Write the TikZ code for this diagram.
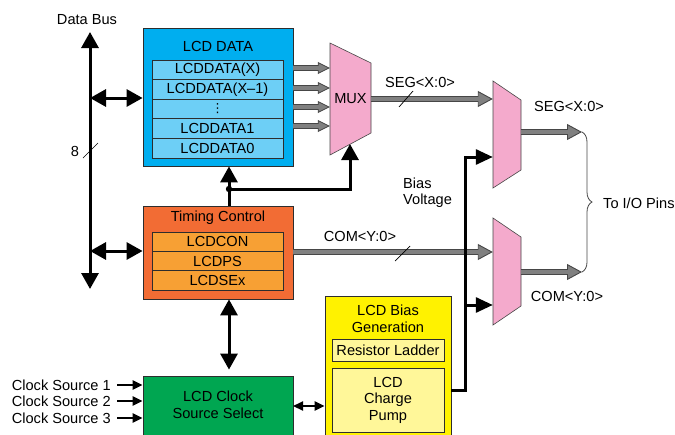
\documentclass[tikz,border=0pt]{standalone}
\usepackage{fontspec}
\setmainfont{Liberation Sans}
\newfontfamily\symfont{DejaVu Sans}
\usetikzlibrary{arrows.meta,decorations.pathreplacing}

\definecolor{dblue}{RGB}{0,174,239}
\definecolor{lblue}{RGB}{109,207,246}
\definecolor{torange}{RGB}{242,108,52}
\definecolor{lorange}{RGB}{247,160,52}
\definecolor{cgreen}{RGB}{0,166,81}
\definecolor{byellow}{RGB}{255,242,0}
\definecolor{lyellow}{RGB}{255,247,153}
\definecolor{mpink}{RGB}{244,170,204}
\definecolor{busgray}{RGB}{128,128,128}
\definecolor{busdark}{RGB}{70,70,70}
\definecolor{edge}{RGB}{45,45,45}

\tikzset{
  bigtip/.tip={Triangle[length=16pt,width=17pt]},
  midtip/.tip={Triangle[length=17pt,width=15pt]},
  smalltip/.tip={Triangle[length=10pt,width=9pt]},
  blk/.style={draw=black, line width=3pt},
  thinblk/.style={draw=black, line width=2.2pt},
  box/.style={draw=edge, line width=0.8pt, inner sep=0pt},
  row/.style={draw=edge, line width=0.8pt, inner sep=0pt,
              minimum width=131pt, minimum height=19.6pt},
  muxshape/.style={draw=busdark, line width=0.6pt, fill=mpink},
  wide bus outer/.style={draw=busdark, line width=6.5pt,
    -{Triangle[length=15pt,width=16pt,line width=0.9pt,fill=busgray]}},
  wide bus inner/.style={draw=busgray, line width=4.3pt, shorten >=14pt},
  narrow bus outer/.style={draw=busdark, line width=5.5pt,
    -{Triangle[length=12pt,width=12pt,line width=0.8pt,fill=busgray]}},
  narrow bus inner/.style={draw=busgray, line width=3.5pt, shorten >=11pt},
  slash/.style={draw=black, line width=0.7pt},
  every node/.style={font=\fontsize{14.6}{16.5}\selectfont}
}

% two-tone bus arrow: #1 = wide or narrow
\newcommand\busarrow[3]{%
  \draw[#1 bus outer] #2 -- #3;
  \draw[#1 bus inner] #2 -- #3;}

\begin{document}
\begin{tikzpicture}[x=1pt,y=-1pt]
\useasboundingbox (0,0) rectangle (675,434);
\clip (0,0) rectangle (675,434);

% ---------------- LCD DATA block
\node[box, fill=dblue, minimum width=150pt, minimum height=138pt] (lcddata) at (218,97) {};
\node (lcddatat) at (218,46) {LCD DATA};
\node[row, fill=lblue] (d1) at (217.5,69.8) {LCDDATA(X)};
\node[row, fill=lblue] (d2) at (217.5,89.4) {LCDDATA(X--1)};
\node[row, fill=lblue] (d3) at (217.5,109.0) {\symfont\fontsize{12.5}{12.5}\selectfont ⋮};
\node[row, fill=lblue] (d4) at (217.5,128.6) {LCDDATA1};
\node[row, fill=lblue] (d5) at (217.5,148.2) {LCDDATA0};

% ---------------- Timing Control block
\node[box, fill=torange, minimum width=150pt, minimum height=93pt] (timing) at (218,252.5) {};
\node (timingt) at (218,218) {Timing Control};
\node[row, fill=lorange, minimum height=19.4pt] (t1) at (217.5,241.7) {LCDCON};
\node[row, fill=lorange, minimum height=19.4pt] (t2) at (217.5,261.1) {LCDPS};
\node[row, fill=lorange, minimum height=19.4pt] (t3) at (217.5,280.5) {LCDSEx};

% ---------------- Clock source select
\node[box, fill=cgreen, minimum width=150pt, minimum height=64pt] (clocksel) at (218,408) {};
\node[align=center] (clockt) at (218,405) {LCD Clock\\Source Select};

% ---------------- Bias generation
\node[box, fill=byellow, minimum width=126pt, minimum height=144pt] (biasgen) at (388,368) {};
\node[align=center] (biast) at (388,319) {LCD Bias\\Generation};
\node[box, fill=lyellow, minimum width=112pt, minimum height=22pt] (ladder) at (388,350) {Resistor Ladder};
\node[box, fill=lyellow, minimum width=112pt, minimum height=64pt, align=center] (pump) at (388,400) {LCD\\Charge\\Pump};

% ---------------- Multiplexers
\draw[muxshape] (330,43) -- (371,63) -- (371,133) -- (330,155) -- cycle;
\node[minimum width=41pt, minimum height=112pt, inner sep=0pt] (mux1) at (350.5,99) {MUX};
\draw[muxshape] (493,81) -- (521,100) -- (521,170) -- (493,188) -- cycle;
\node[minimum width=28pt, minimum height=107pt, inner sep=0pt] (mux2) at (507,134.5) {};
\draw[muxshape] (493,218) -- (521,237) -- (521,306) -- (493,325) -- cycle;
\node[minimum width=28pt, minimum height=107pt, inner sep=0pt] (mux3) at (507,271.5) {};

% ---------------- Data bus
\coordinate (busTop) at (90,32);
\coordinate (busBot) at (90,289);
\node (busl) at (87,20) {Data Bus};
\draw[blk, bigtip-bigtip] (busBot) -- (busTop);
\coordinate (b1) at (90,98);
\coordinate (b2) at (90,251);
\draw[blk, bigtip-bigtip] (b1) -- (b1 -| lcddata.west);
\draw[blk, bigtip-bigtip] (b2) -- (b2 -| timing.west);
\draw[slash] (83,158) -- (98,143);
\node (eight) at (75,151) {8};

% ---------------- Data registers to MUX
\busarrow{narrow}{(lcddata.east |- 0,68)}{(mux1.west |- 0,68)}
\busarrow{narrow}{(lcddata.east |- 0,88)}{(mux1.west |- 0,88)}
\busarrow{narrow}{(lcddata.east |- 0,107)}{(mux1.west |- 0,107)}
\busarrow{narrow}{(lcddata.east |- 0,126)}{(mux1.west |- 0,126)}

% ---------------- Timing control to data and MUX select
\coordinate (jn) at (229,189);
\coordinate (m1sel) at (350,144);
\draw[blk, -bigtip] (timing.north -| jn) -- (lcddata.south -| jn);
\draw[blk, -bigtip] (jn) -| (m1sel);
\fill (jn) circle (3.2pt);
\draw[blk, bigtip-bigtip, shorten >=6pt] (timing.south -| jn) -- (clocksel.north -| jn);

% ---------------- Segment and common buses
\busarrow{wide}{(mux1.east)}{(mux1.east -| mux2.west)}
\node (segl1) at (420,82) {SEG<X:0>};
\draw[slash] (399,107) -- (413,91);

\busarrow{wide}{(timing.east |- 0,252)}{(mux3.west |- 0,252)}
\node (coml1) at (360,236) {COM<Y:0>};
\draw[slash] (395,261) -- (410,246);

\coordinate (segout) at (582,132);
\coordinate (comout) at (582,272);
\busarrow{wide}{(mux2.east |- segout)}{(segout)}
\busarrow{wide}{(mux3.east |- comout)}{(comout)}
\node (segl2) at (569,106) {SEG<X:0>};
\node (coml2) at (567,296) {COM<Y:0>};

\draw[draw=busdark, line width=0.8pt, decorate,
      decoration={brace, amplitude=10pt, aspect=0.5}] (segout) -- (comout);
\node[anchor=west, inner sep=0pt] (pins) at (603,203) {To I/O Pins};

% ---------------- Bias voltage
\coordinate (bv) at (465,390);
\coordinate (bj) at (465,305);
\coordinate (bt) at (465,157);
\draw[blk, -midtip] (biasgen.east |- bv) -- (bv) -- (bt) -- (bt -| mux2.west);
\draw[blk, -midtip] (bj) -- (bj -| mux3.west);
\node[align=left, anchor=west, inner sep=0pt] (biasv) at (403,192.5) {Bias\\Voltage};

% ---------------- Clock sources
\node[anchor=east, inner sep=0pt] (cs1) at (111,385) {Clock Source 1};
\node[anchor=east, inner sep=0pt] (cs2) at (111,401) {Clock Source 2};
\node[anchor=east, inner sep=0pt] (cs3) at (111,418) {Clock Source 3};
\draw[thinblk, -smalltip] ([xshift=6pt]cs1.east) -- (cs1 -| clocksel.west);
\draw[thinblk, -smalltip] ([xshift=6pt]cs2.east) -- (cs2 -| clocksel.west);
\draw[thinblk, -smalltip] ([xshift=6pt]cs3.east) -- (cs3 -| clocksel.west);

\coordinate (cb) at (293,406);
\draw[thinblk, smalltip-smalltip] (cb) -- (cb -| biasgen.west);

\end{tikzpicture}
\end{document}
